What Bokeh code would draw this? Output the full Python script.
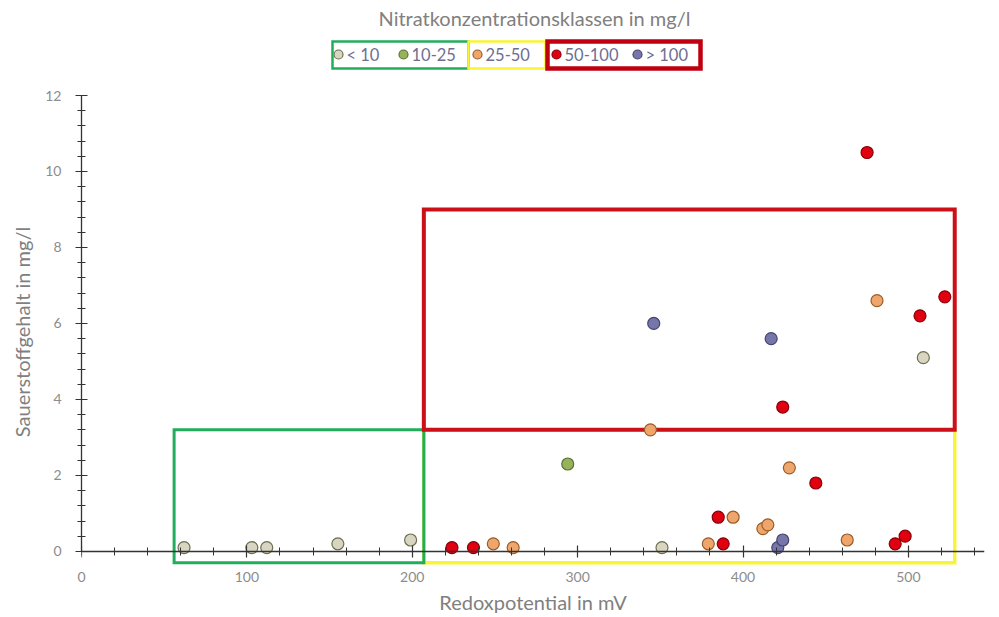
from bokeh.plotting import figure
from bokeh.models import Range1d, SingleIntervalTicker, ColumnDataSource, LinearAxis
from bokeh.layouts import column
from bokeh.embed import file_html
from bokeh.resources import INLINE
from bokeh.core.properties import value

FONT = "Lato"

# ---------------- data ----------------
title_text = "Nitratkonzentrationsklassen in mg/l"
x_label = "Redoxpotential in mV"
y_label = "Sauerstoffgehalt in mg/l"

class_labels = ["< 10", "10-25", "25-50", "50-100", "> 100"]
class_fill = ["#d8d5c2", "#96b35c", "#eea66c", "#e0000f", "#7676aa"]
class_line = ["#6e6e4e", "#5a7330", "#9a5c28", "#8a0008", "#45456e"]

lt10_x = [62, 103, 112, 155, 199, 351, 509]
lt10_y = [0.1, 0.1, 0.1, 0.2, 0.3, 0.1, 5.1]

c10_25_x = [294]
c10_25_y = [2.3]

c25_50_x = [249, 261, 344, 379, 394, 412, 415, 428, 463, 481]
c25_50_y = [0.2, 0.1, 3.2, 0.2, 0.9, 0.6, 0.7, 2.2, 0.3, 6.6]

c50_100_x = [224, 237, 385, 388, 424, 444, 475, 492, 498, 507, 522]
c50_100_y = [0.1, 0.1, 0.9, 0.2, 3.8, 1.8, 10.5, 0.2, 0.4, 6.2, 6.7]

gt100_x = [346, 417, 421, 424]
gt100_y = [6.0, 5.6, 0.1, 0.3]

series_x = [lt10_x, c10_25_x, c25_50_x, c50_100_x, gt100_x]
series_y = [lt10_y, c10_25_y, c25_50_y, c50_100_y, gt100_y]

# highlighted zones (data units)
zone_names = ["yellow", "green", "red"]
zone_x0 = [207, 56, 207]
zone_x1 = [528, 207, 528]
zone_y0 = [-0.3, -0.3, 3.2]
zone_y1 = [3.2, 3.2, 9.0]
zone_color = ["#f7f535", "#22ad5c", "#cc1018"]
zone_width = [3.5, 3, 4]

legend_group_color = ["#22ad5c", "#f7f535", "#c00010"]
legend_group_width = [2.5, 2.5, 4.5]

# ---------------- layout constants (page pixels) ----------------
BL, BR = 81, 7            # left / right borders of both figures
FW = 903                  # frame width
HDR_H = 83

# ---------------- header (title + legend) ----------------
hdr = figure(width=BL + FW + BR, height=HDR_H, x_range=Range1d(BL, BL + FW),
             y_range=Range1d(HDR_H, 0), output_backend="svg",
             toolbar_location=None, min_border_left=BL, min_border_right=BR,
             min_border_top=0, min_border_bottom=0)
hdr.axis.visible = False
hdr.grid.visible = False
hdr.outline_line_color = None

hdr.text(x=[534], y=[17], text=[title_text], text_align="center",
         text_baseline="middle", text_font=value(FONT),
         text_font_size="20px", text_color="#808080")

leg_marker_x = [338, 403, 477, 556, 637]
leg_y = 54
hdr.scatter(x=leg_marker_x, y=[leg_y] * 5, size=9, fill_color=class_fill,
            line_color=class_line, line_width=1.2)
hdr.text(x=[mx + 8 for mx in leg_marker_x], y=[leg_y] * 5, text=class_labels,
         text_align="left", text_baseline="middle", text_font=value(FONT),
         text_font_size="16.5px", text_color="#6e6e92")

hdr.quad(left=[332, 468, 547], right=[468, 545, 700],
         top=[41] * 3, bottom=[68] * 3, fill_color=None,
         line_color=legend_group_color, line_width=legend_group_width,
         line_join="miter")

# ---------------- main scatter ----------------
main = figure(frame_width=FW, frame_height=473, x_range=Range1d(0, 546),
              y_range=Range1d(-0.45, 12), output_backend="svg",
              toolbar_location=None, min_border_left=BL, min_border_right=BR,
              min_border_top=12, min_border_bottom=51)
main.grid.visible = False
main.outline_line_color = None

zsrc = ColumnDataSource(dict(l=zone_x0, r=zone_x1, b=zone_y0, t=zone_y1,
                             c=zone_color, w=zone_width))
main.quad(left="l", right="r", bottom="b", top="t", source=zsrc,
          fill_color=None, line_color="c", line_width="w", line_join="miter")

for xs, ys, fc, lc in zip(series_x, series_y, class_fill, class_line):
    main.scatter(x=xs, y=ys, size=12, fill_color=fc, line_color=lc,
                 line_width=1.2)

AX = "#333333"


def style_lines(ax):
    ax.axis_line_color = AX
    ax.axis_line_width = 1.3
    ax.major_tick_line_color = AX
    ax.minor_tick_line_color = AX
    ax.major_tick_line_width = 1.2
    ax.minor_tick_line_width = 1.0
    ax.major_tick_in = 6
    ax.major_tick_out = 6
    ax.minor_tick_in = 4
    ax.minor_tick_out = 4


def style_text(ax):
    ax.major_label_text_font = FONT
    ax.major_label_text_font_size = "14px"
    ax.major_label_text_color = "#8c8c8c"
    ax.axis_label_text_font = FONT
    ax.axis_label_text_font_style = "normal"
    ax.axis_label_text_font_size = "20px"
    ax.axis_label_text_color = "#808080"


x_ticker = SingleIntervalTicker(interval=100, num_minor_ticks=5)
y_ticker = SingleIntervalTicker(interval=2, num_minor_ticks=5)

# x axis labels (at the frame bottom, lines hidden)
xa = main.xaxis[0]
xa.ticker = x_ticker
style_text(xa)
xa.axis_line_color = None
xa.major_tick_line_color = None
xa.minor_tick_line_color = None
xa.major_tick_out = 0
xa.major_tick_in = 0
xa.minor_tick_out = 0
xa.minor_tick_in = 0
xa.major_label_standoff = 3
xa.axis_label = x_label
xa.axis_label_standoff = 5
xa.bounds = (0, 560)

# x axis line and ticks crossing at y = 0
x_line = LinearAxis(ticker=x_ticker, fixed_location=0, bounds=(0, 546))
style_lines(x_line)
x_line.major_label_text_color = None
x_line.major_label_text_font_size = "0px"
main.add_layout(x_line, "below")

ya = main.yaxis[0]
ya.ticker = y_ticker
ya.bounds = (0, 12)
style_lines(ya)
style_text(ya)
ya.major_label_standoff = 14
ya.axis_label = y_label
ya.axis_label_standoff = 8

layout = column(hdr, main, spacing=0)
open("out.html", "w").write(file_html(layout, INLINE))
